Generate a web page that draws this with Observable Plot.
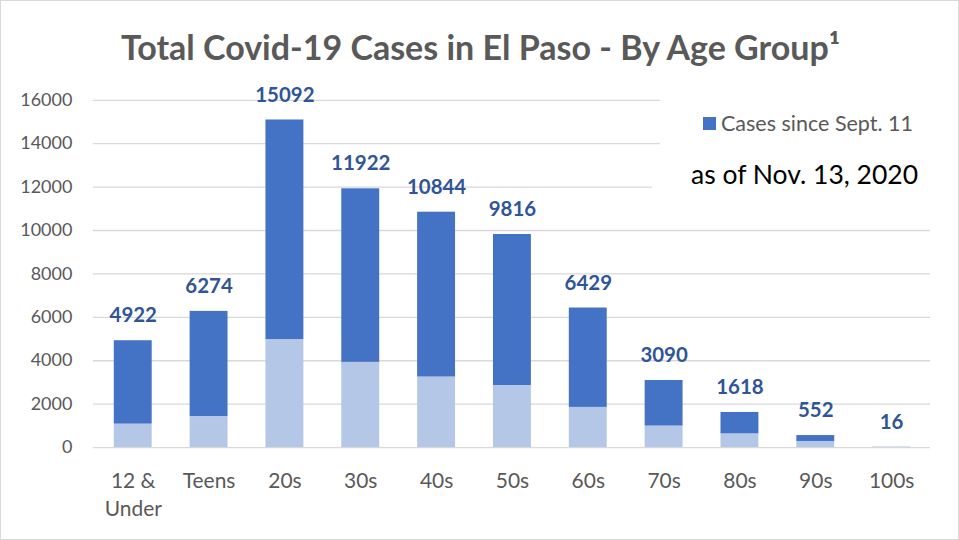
<!DOCTYPE html>
<html>
<head>
<meta charset="utf-8">
<script src="https://cdn.jsdelivr.net/npm/d3@7"></script>
<script src="https://cdn.jsdelivr.net/npm/@observablehq/plot@0.6"></script>
<style>
  html, body { margin: 0; padding: 0; background: #fff; }
  #wrap { position: relative; width: 959px; height: 540px; box-sizing: border-box; border: 1px solid #d9d9d9; overflow: hidden; font-family: Lato, "Open Sans", sans-serif; }
  #wrap svg { position: absolute; left: -1px; top: -1px; }
  #title { position: absolute; left: 0; width: 959px; top: 25px; text-align: center; font-weight: bold; font-size: 34px; color: #595959; line-height: 42px; }
  #legend { position: absolute; left: 659px; top: 95px; width: 280px; height: 55px; background: #fff; }
  #legend .sw { position: absolute; left: 43px; top: 21px; width: 13px; height: 13px; background: #4472C4; }
  #legend .lt { position: absolute; left: 61px; top: 12px; font-size: 21.5px; color: #595959; white-space: nowrap; line-height: 30px; }
  #note { position: absolute; left: 651px; top: 150px; width: 288px; height: 50px; background: #fff; }
  #note span { position: absolute; left: 39px; top: 6px; font-size: 26.5px; color: #000; white-space: nowrap; line-height: 34px; }
</style>
</head>
<body>
<div id="wrap"></div>
<script>
const categories = ["12 & Under", "Teens", "20s", "30s", "40s", "50s", "60s", "70s", "80s", "90s", "100s"];
const totals = [4922, 6274, 15092, 11922, 10844, 9816, 6429, 3090, 1618, 552, 16];
const beforeSept11 = [1080, 1430, 4975, 3925, 3250, 2860, 1850, 990, 630, 280, 8];
const yTicks = [0, 2000, 4000, 6000, 8000, 10000, 12000, 14000, 16000];
const seriesNames = ["Before Sept. 11", "Cases since Sept. 11"];
const seriesColors = ["#B4C7E7", "#4472C4"];

const rows = [];
categories.forEach((c, i) => {
  rows.push({age: c, series: seriesNames[0], value: beforeSept11[i]});
  rows.push({age: c, series: seriesNames[1], value: totals[i] - beforeSept11[i]});
});
const labels = categories.map((c, i) => ({age: c, total: totals[i]}));

const chart = Plot.plot({
  width: 959,
  height: 540,
  marginTop: 100,
  marginBottom: 92,
  marginLeft: 93,
  marginRight: 27,
  style: {fontFamily: "Lato, 'Open Sans', sans-serif", background: "transparent"},
  x: {domain: categories, paddingInner: 0.5, paddingOuter: 0.25, label: null},
  y: {domain: [0, 16000], label: null},
  color: {domain: seriesNames, range: seriesColors},
  marks: [
    Plot.ruleY(yTicks, {stroke: "#d9d9d9", strokeWidth: 1.3}),
    Plot.barY(rows, {x: "age", y: "value", fill: "series", order: seriesNames}),
    Plot.text(labels, {x: "age", y: "total", text: d => String(d.total), dy: -25, fill: "#2F5597", fontWeight: "bold", fontSize: 20.5}),
    Plot.axisY({ticks: yTicks, tickSize: 0, tickPadding: 21, fontSize: 18, color: "#595959", tickFormat: d => String(d)}),
    Plot.axisX({tickSize: 0, tickPadding: 21, fontSize: 21, color: "#595959", lineHeight: 1.33,
      tickFormat: d => d === "12 & Under" ? "12 &\nUnder" : d})
  ]
});

const wrap = document.getElementById("wrap");
wrap.appendChild(chart);
const title = document.createElement("div");
title.id = "title";
title.innerHTML = "Total Covid-19 Cases in El Paso - By Age Group¹";
wrap.appendChild(title);
const legend = document.createElement("div");
legend.id = "legend";
legend.innerHTML = '<div class="sw"></div><div class="lt">' + seriesNames[1] + '</div>';
wrap.appendChild(legend);
const note = document.createElement("div");
note.id = "note";
note.innerHTML = "<span>as of Nov. 13, 2020</span>";
wrap.appendChild(note);
</script>
</body>
</html>
